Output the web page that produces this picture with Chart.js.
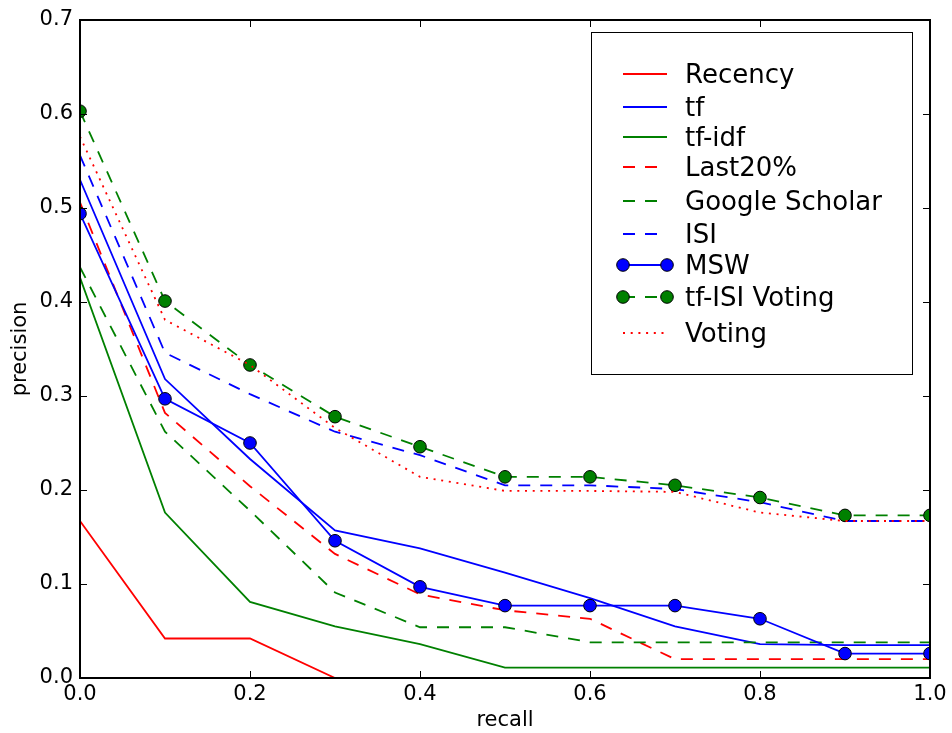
<!DOCTYPE html>
<html>
<head>
<meta charset="utf-8">
<script src="https://cdn.jsdelivr.net/npm/chart.js@4.4.1/dist/chart.umd.min.js"></script>
<style>
  html,body{margin:0;padding:0;background:#fff}
  canvas{display:block}
</style>
</head>
<body>
<canvas id="prChart" width="952" height="733"></canvas>
<script>
/* ── DATA ── */
const recall      = [0.0, 0.1, 0.2, 0.3, 0.4, 0.5, 0.6, 0.7, 0.8, 0.9, 1.0];
const recency     = [0.167, 0.042, 0.042, 0.0, 0.0, 0.0, 0.0, 0.0, 0.0, 0.0, 0.0];
const tf          = [0.530, 0.318, 0.233, 0.157, 0.138, 0.112, 0.085, 0.055, 0.036, 0.035, 0.035];
const tfIdf       = [0.426, 0.176, 0.081, 0.055, 0.036, 0.011, 0.011, 0.011, 0.011, 0.011, 0.011];
const last20      = [0.506, 0.282, 0.204, 0.132, 0.089, 0.072, 0.063, 0.020, 0.020, 0.020, 0.020];
const scholar     = [0.437, 0.262, 0.178, 0.091, 0.054, 0.054, 0.038, 0.038, 0.038, 0.038, 0.038];
const isi         = [0.556, 0.346, 0.302, 0.262, 0.237, 0.205, 0.205, 0.201, 0.187, 0.167, 0.167];
const msw         = [0.494, 0.297, 0.250, 0.146, 0.097, 0.077, 0.077, 0.077, 0.063, 0.026, 0.026];
const tfIsiVoting = [0.603, 0.401, 0.333, 0.278, 0.246, 0.214, 0.214, 0.205, 0.192, 0.173, 0.173];
const voting      = [0.576, 0.381, 0.333, 0.266, 0.214, 0.199, 0.199, 0.198, 0.176, 0.167, 0.167];

const names  = ['Recency','tf','tf-idf','Last20%','Google Scholar','ISI','MSW','tf-ISI Voting','Voting'];
const series = [recency, tf, tfIdf, last20, scholar, isi, msw, tfIsiVoting, voting];
const xTicks = [0.0, 0.2, 0.4, 0.6, 0.8, 1.0];

/* ── STYLES ── */
const RED='#ff0000', BLUE='#0000ff', GREEN='#008000';
const DASH=[12,10], DOT=[2,5.7];
const styles = [
  {c:RED,   dash:[]},
  {c:BLUE,  dash:[]},
  {c:GREEN, dash:[]},
  {c:RED,   dash:DASH},
  {c:GREEN, dash:DASH},
  {c:BLUE,  dash:DASH},
  {c:BLUE,  dash:[],   marker:true},
  {c:GREEN, dash:DASH, marker:true},
  {c:RED,   dash:DOT}
];
const FONT='"DejaVu Sans", sans-serif';

const datasets = series.map((vals,i)=>({
  label:names[i],
  data:vals.map((v,k)=>({x:recall[k],y:v})),
  borderColor:styles[i].c,
  backgroundColor:styles[i].c,
  borderDash:styles[i].dash,
  borderWidth:1.8,
  tension:0,
  fill:false,
  clip:0,
  pointRadius:styles[i].marker?6.3:0,
  pointHoverRadius:0,
  pointBackgroundColor:styles[i].c,
  pointBorderColor:'#000',
  pointBorderWidth:1,
  order:names.length-i
}));

/* ── FRAME + INWARD TICKS (matplotlib look) ── */
const frame = {
  id:'frame',
  afterDatasetsDraw(chart){
    const {ctx, chartArea:a, scales:{x,y}} = chart;
    ctx.save();
    ctx.strokeStyle='#000'; ctx.lineWidth=1;
    ctx.beginPath();
    x.ticks.forEach(t=>{
      const p=Math.round(x.getPixelForValue(t.value))+0.5;
      ctx.moveTo(p,a.bottom); ctx.lineTo(p,a.bottom-7);
      ctx.moveTo(p,a.top);    ctx.lineTo(p,a.top+7);
    });
    y.ticks.forEach(t=>{
      const p=Math.round(y.getPixelForValue(t.value))+0.5;
      ctx.moveTo(a.left,p);  ctx.lineTo(a.left+7,p);
      ctx.moveTo(a.right,p); ctx.lineTo(a.right-7,p);
    });
    ctx.stroke();
    ctx.lineWidth=2;
    ctx.strokeRect(a.left,a.top,a.right-a.left,a.bottom-a.top);
    ctx.restore();
  }
};

/* ── LEGEND BOX inside the axes ── */
const boxLegend = {
  id:'boxLegend',
  afterDraw(chart){
    const {ctx, chartArea:a} = chart;
    const bx=a.right-338.5, by=a.top+12.5, bw=321, bh=342;
    const rows=[74,107,137,167,201,234,265,297,333];
    const x0=623, x1=667, tx=685;
    ctx.save();
    ctx.fillStyle='#fff'; ctx.fillRect(bx,by,bw,bh);
    ctx.strokeStyle='#000'; ctx.lineWidth=1; ctx.strokeRect(bx,by,bw,bh);
    chart.data.datasets.forEach((ds,i)=>{
      const yy=rows[i];
      ctx.save();
      ctx.strokeStyle=ds.borderColor; ctx.lineWidth=ds.borderWidth;
      ctx.setLineDash(ds.borderDash);
      ctx.beginPath(); ctx.moveTo(x0,yy); ctx.lineTo(x1,yy); ctx.stroke();
      ctx.setLineDash([]);
      if(ds.pointRadius>0){
        [x0,x1].forEach(px=>{
          ctx.beginPath(); ctx.arc(px,yy,ds.pointRadius,0,Math.PI*2);
          ctx.fillStyle=ds.pointBackgroundColor; ctx.fill();
          ctx.strokeStyle='#000'; ctx.lineWidth=1; ctx.stroke();
        });
      }
      ctx.restore();
      ctx.fillStyle='#000'; ctx.font='26px '+FONT; ctx.textBaseline='alphabetic';
      ctx.fillText(ds.label,tx,yy+8.5);
    });
    ctx.restore();
  }
};

new Chart(document.getElementById('prChart'),{
  type:'line',
  data:{datasets},
  options:{
    responsive:false, animation:false, devicePixelRatio:1,
    layout:{padding:{top:20,right:22,left:0,bottom:0}},
    plugins:{legend:{display:false},tooltip:{enabled:false}},
    events:[],
    scales:{
      x:{
        type:'linear', min:0, max:1,
        afterFit:s=>{s.height=55;},
        afterBuildTicks:s=>{s.ticks=xTicks.map(v=>({value:v}));},
        grid:{display:false,drawTicks:false}, border:{display:false},
        ticks:{color:'#000',font:{family:FONT,size:21},padding:4,autoSkip:false,maxRotation:0,
               callback:v=>Number(v).toFixed(1)},
        title:{display:true,text:'recall',color:'#000',font:{family:FONT,size:21},padding:{top:0,bottom:0}}
      },
      y:{
        type:'linear', min:0, max:0.7,
        afterFit:s=>{s.width=80;},
        grid:{display:false,drawTicks:false}, border:{display:false},
        ticks:{stepSize:0.1,color:'#000',font:{family:FONT,size:21},padding:7,autoSkip:false,
               callback:v=>Number(v).toFixed(1)},
        title:{display:true,text:'precision',color:'#000',font:{family:FONT,size:21},padding:{top:8,bottom:0}}
      }
    }
  },
  plugins:[frame,boxLegend]
});
</script>
</body>
</html>
